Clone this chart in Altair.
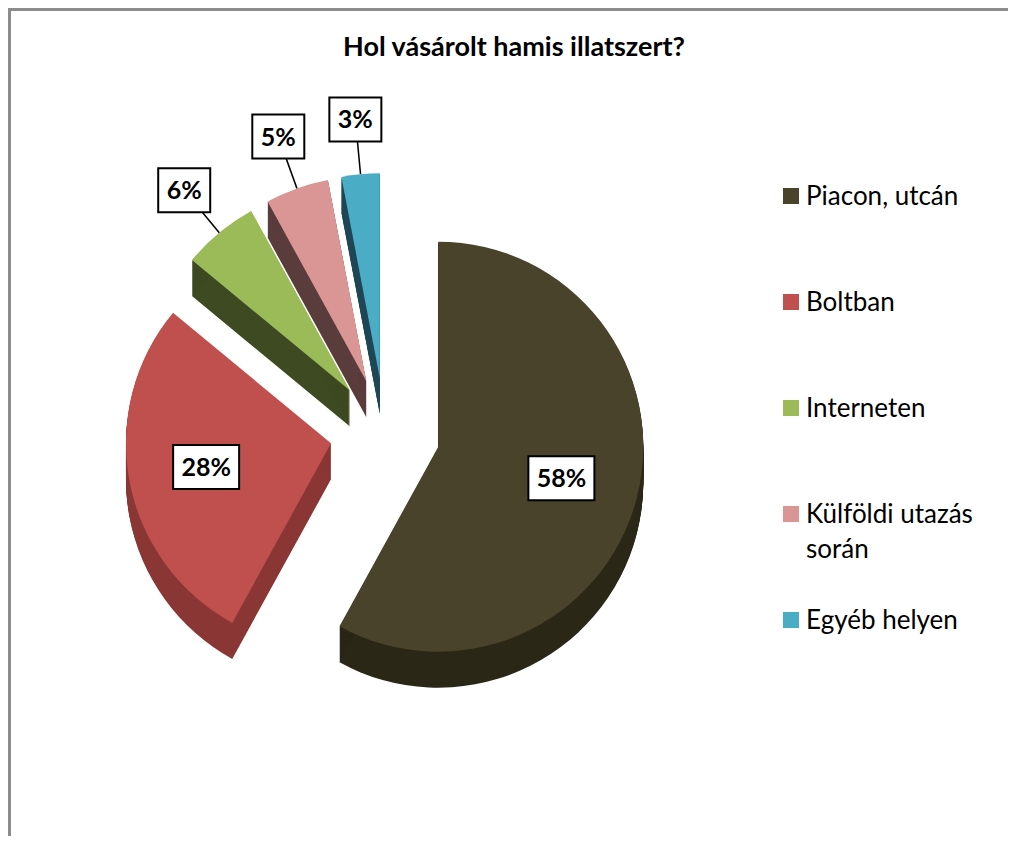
import math
import altair as alt
import pandas as pd

# ---- data -------------------------------------------------------------
TITLE = "Hol vásárolt hamis illatszert?"
CATEGORIES = ["Piacon, utcán", "Boltban", "Interneten", "Külföldi utazás\nsorán", "Egyéb helyen"]
VALUES = [58, 28, 6, 5, 3]
LABELS = ["58%", "28%", "6%", "5%", "3%"]

# ---- styles -----------------------------------------------------------
COLORS = ["#4A432B", "#C0504D", "#9BBB59", "#D99694", "#4BACC6"]
SIDE_COLORS = ["#2B2717", "#8A3634", "#3E4A22", "#5B3C3C", "#1F4655"]
FONT = "Lato"

W, H = 1000, 828
CX, CY = 377, 425      # pie centre (view px)
R = 205                # pie radius
E = 55                 # explode distance
DEPTH = 36             # 3-D depth
TOTAL = sum(VALUES)

df = pd.DataFrame({"cat": CATEGORIES, "value": VALUES, "label": LABELS,
                   "idx": list(range(len(VALUES)))})

theta_scale = alt.Scale(domain=[0, TOTAL], range=[0, 2 * math.pi])
col_scale = alt.Scale(domain=CATEGORIES, range=COLORS)
side_scale = alt.Scale(domain=CATEGORIES, range=SIDE_COLORS)

base = (
    alt.Chart(df)
    .transform_window(cum="sum(value)", sort=[alt.SortField("idx")], frame=[None, 0])
    .transform_joinaggregate(total="sum(value)")
    .transform_calculate(
        c0="datum.cum - datum.value",
        c1="datum.cum",
        mid="(datum.cum - datum.value/2)/datum.total*2*PI",
    )
    .transform_calculate(
        cx=f"{CX} + {E}*sin(datum.mid)",
        cy=f"{CY} - {E}*cos(datum.mid)",
    )
    .transform_calculate(
        lr=f"datum.value >= 10 ? {0.62 * R} : {R + 55}",
    )
    .transform_calculate(
        lx="datum.cx + datum.lr*sin(datum.mid)",
        ly="datum.cy - datum.lr*cos(datum.mid)",
        ex=f"datum.cx + {R}*sin(datum.mid)",
        ey=f"datum.cy - {R}*cos(datum.mid)",
        bw="24 + 14*length(datum.label)",
    )
    .transform_calculate(
        bx0="datum.lx - datum.bw/2",
        bx1="datum.lx + datum.bw/2",
        by0="datum.ly - 22",
        by1="datum.ly + 22",
    )
)

sides = (
    base.transform_calculate(layers=f"sequence(1, {DEPTH + 1}, 1)")
    .transform_flatten(["layers"])
    .transform_calculate(cyd="datum.cy + datum.layers")
    .mark_arc(outerRadius=R)
    .encode(
        theta=alt.Theta("c0:Q", scale=theta_scale),
        theta2="c1:Q",
        x=alt.X("cx:Q", scale=None, axis=None),
        y=alt.Y("cyd:Q", scale=None, axis=None),
        color=alt.Color("cat:N", scale=side_scale, legend=None),
    )
)

tops = base.mark_arc(outerRadius=R).encode(
    theta=alt.Theta("c0:Q", scale=theta_scale),
    theta2="c1:Q",
    x=alt.X("cx:Q", scale=None, axis=None),
    y=alt.Y("cy:Q", scale=None, axis=None),
    color=alt.Color("cat:N", scale=col_scale, legend=None),
)

leaders = base.transform_filter("datum.value < 10").mark_rule(
    color="black", strokeWidth=1.5
).encode(
    x=alt.X("ex:Q", scale=None, axis=None),
    y=alt.Y("ey:Q", scale=None, axis=None),
    x2="lx:Q",
    y2="ly:Q",
)

boxes = base.mark_rect(fill="white", stroke="black", strokeWidth=2).encode(
    x=alt.X("bx0:Q", scale=None, axis=None),
    x2="bx1:Q",
    y=alt.Y("by0:Q", scale=None, axis=None),
    y2="by1:Q",
)

label_text = base.mark_text(
    font=FONT, fontWeight="bold", fontSize=25, align="center", baseline="middle",
    color="black", dy=1,
).encode(
    x=alt.X("lx:Q", scale=None, axis=None),
    y=alt.Y("ly:Q", scale=None, axis=None),
    text="label:N",
)

legend_y = alt.Scale(type="point", domain=CATEGORIES, range=[188, 188 + 106 * 4], padding=0)

legend_sym = alt.Chart(df).mark_point(shape="square", filled=True, size=256, opacity=1).encode(
    x=alt.value(783),
    y=alt.Y("cat:N", scale=legend_y, axis=None),
    color=alt.Color("cat:N", scale=col_scale, legend=None),
)

legend_txt = alt.Chart(df).mark_text(
    font=FONT, fontSize=26, align="left", baseline="alphabetic", dy=9,
    lineBreak="\n", lineHeight=35, color="black",
).encode(
    x=alt.value(798),
    y=alt.Y("cat:N", scale=legend_y, axis=None),
    text="cat:N",
)

title = alt.Chart(pd.DataFrame({"t": [TITLE]})).mark_text(
    font=FONT, fontWeight="bold", fontSize=27, align="center", baseline="middle", color="black",
).encode(x=alt.value(506), y=alt.value(40), text="t:N")

border_left = alt.Chart(pd.DataFrame({"a": [0]})).mark_rule(color="#8C8C8C", strokeWidth=3).encode(
    x=alt.value(1.5), y=alt.value(0), y2=alt.value(H)
)
border_top = alt.Chart(pd.DataFrame({"a": [0]})).mark_rule(color="#8C8C8C", strokeWidth=3).encode(
    y=alt.value(1.5), x=alt.value(0), x2=alt.value(W)
)

chart = (
    alt.layer(border_left, border_top, title, sides, tops, leaders, boxes, label_text,
              legend_sym, legend_txt)
    .resolve_scale(x="independent", y="independent", color="independent", theta="independent")
    .properties(width=W, height=H, autosize=alt.AutoSizeParams(type="none"), padding=0)
    .configure_view(stroke=None)
)

chart.save("out.html", embed_options={"renderer": "svg", "actions": False})
